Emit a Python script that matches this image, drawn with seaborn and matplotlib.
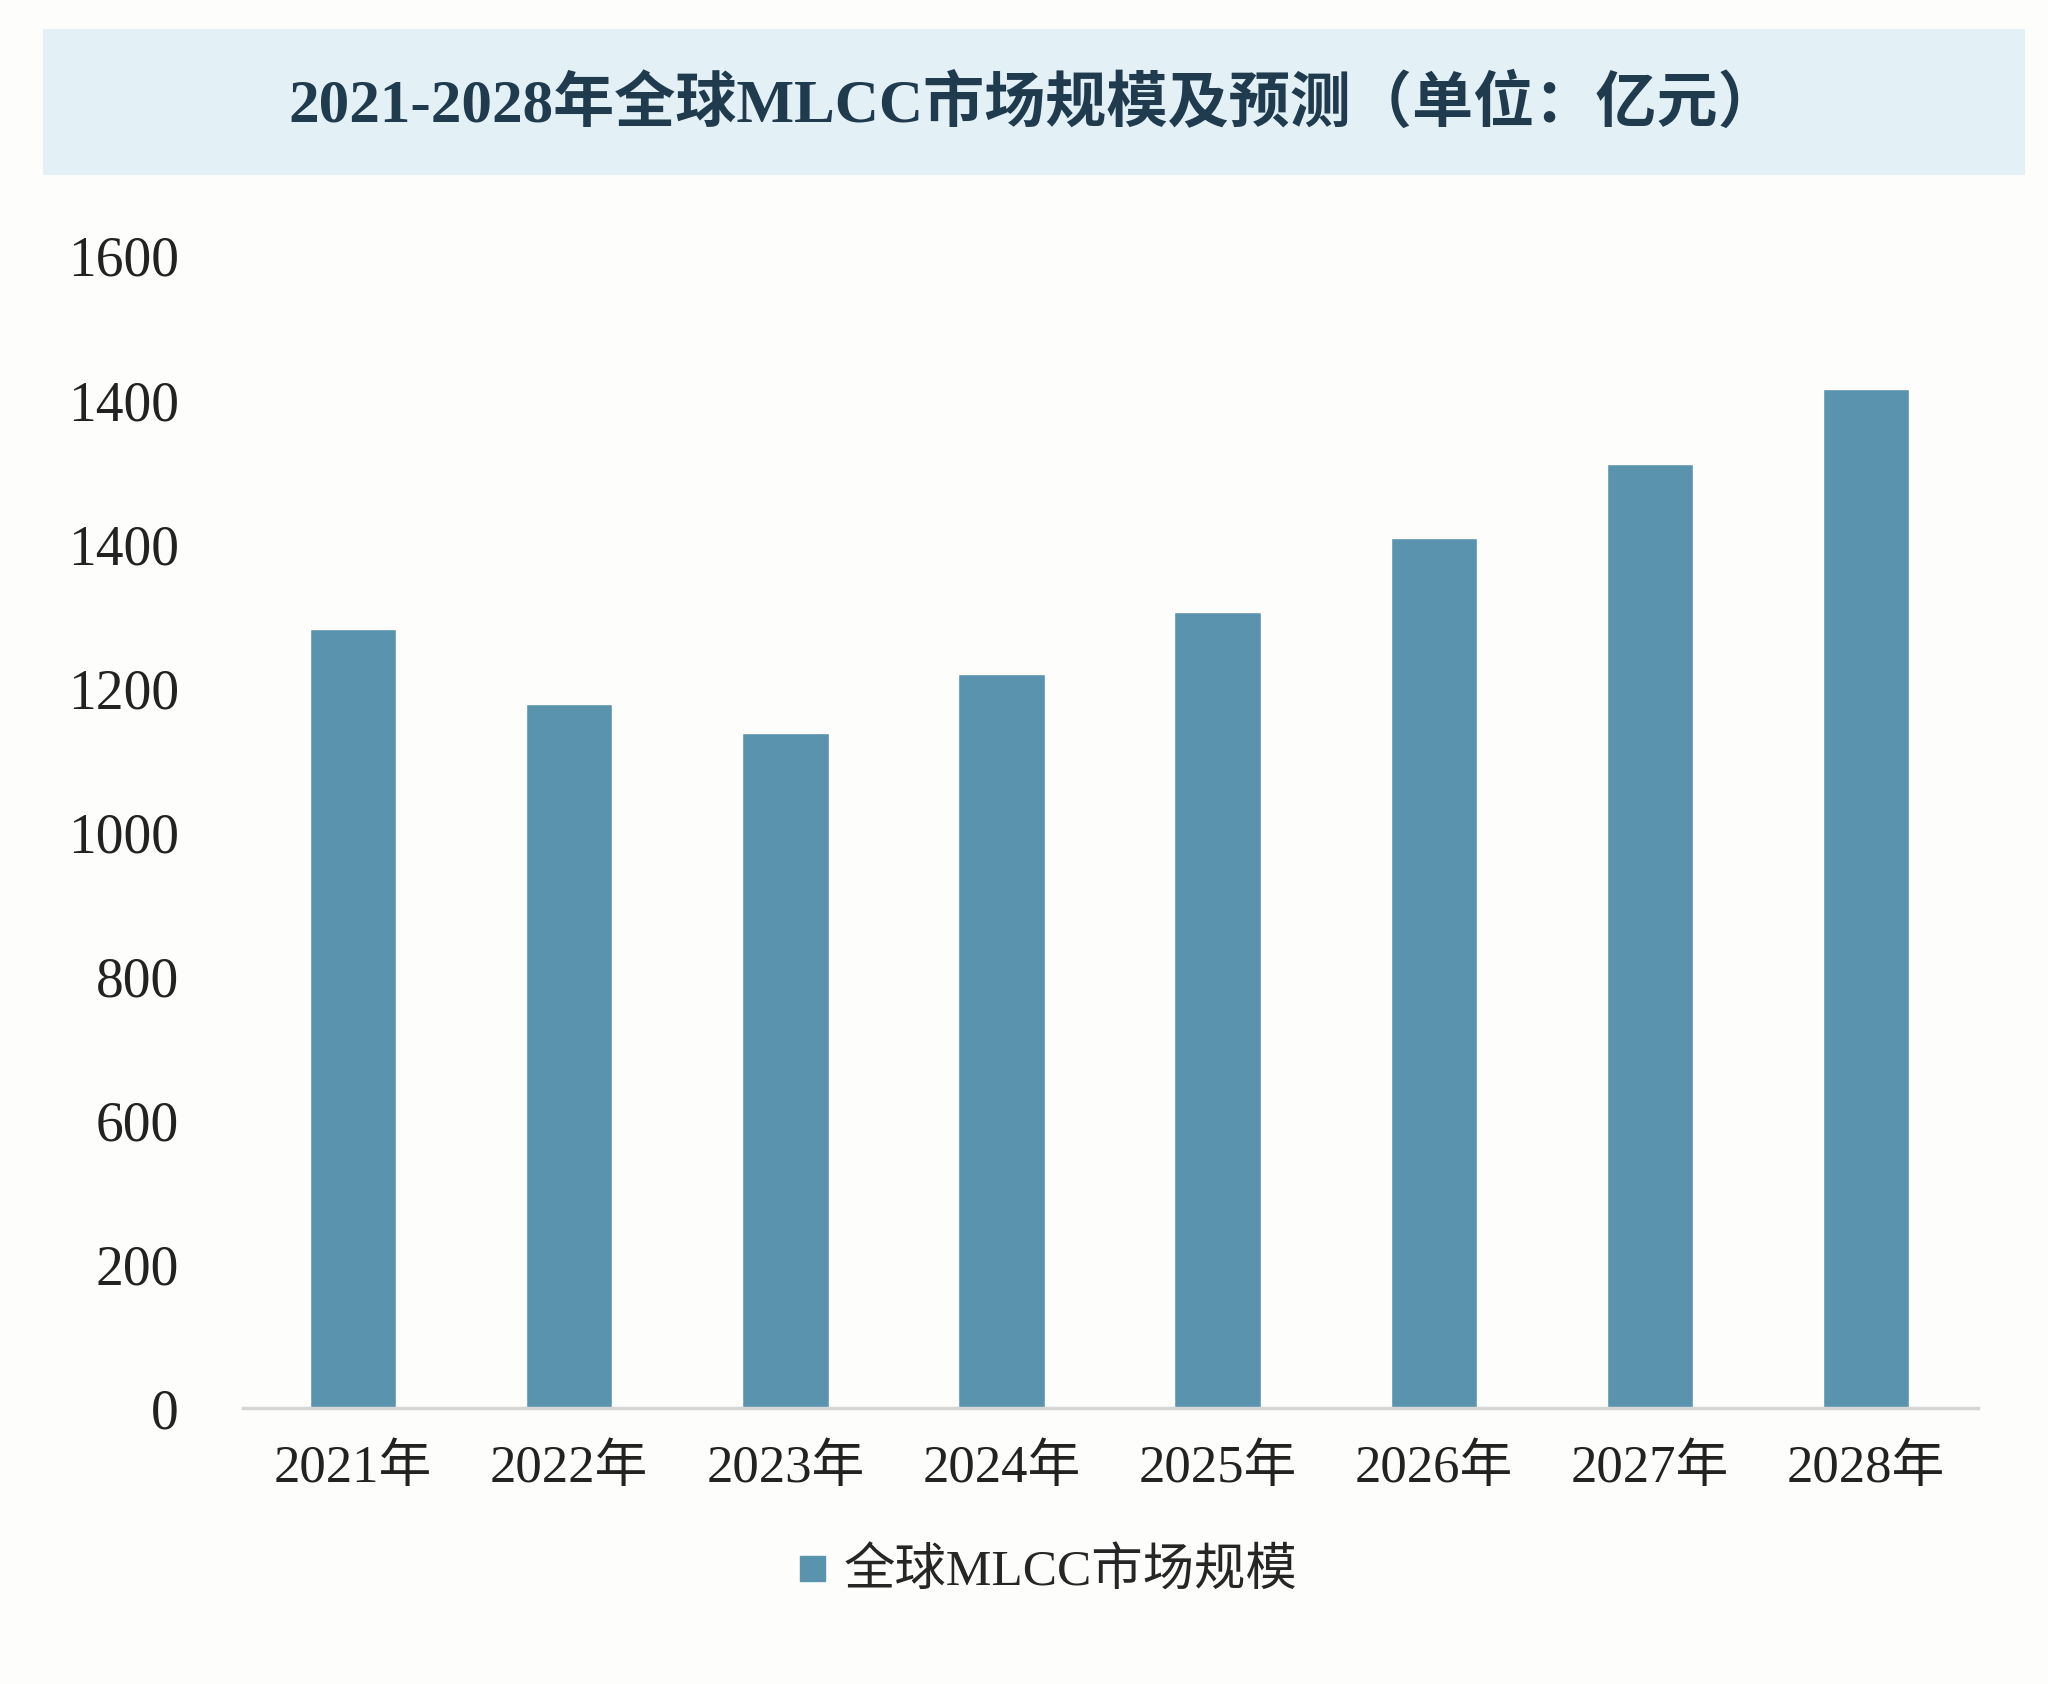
import numpy as np
import pandas as pd
import matplotlib
matplotlib.use("Agg")
import matplotlib.pyplot as plt
from matplotlib.patches import Rectangle
from matplotlib.lines import Line2D
import seaborn as sns

years = ["2021年", "2022年", "2023年", "2024年", "2025年", "2026年", "2027年", "2028年"]
market = [1082, 978, 938, 1020, 1106, 1208, 1311, 1415]
ytick_vals = [0, 200, 400, 600, 800, 1000, 1200, 1400, 1600]
ytick_text = ["0", "200", "600", "800", "1000", "1200", "1400", "1400", "1600"]
title = "2021-2028年全球MLCC市场规模及预测（单位：亿元）"
series_name = "全球MLCC市场规模"

bar_color = "#5a93ae"
fonts = ["Liberation Serif", "Noto Sans CJK SC", "DejaVu Sans"]

sns.set_theme(style="white")
plt.rcParams["font.family"] = fonts

df = pd.DataFrame({"year": years, "value": market})

fig = plt.figure(figsize=(20.48, 16.84), dpi=100)
fig.patch.set_facecolor("#fdfdfb")

# title band
fig.patches.append(Rectangle((0.021, 0.8963), 0.968, 0.0866, transform=fig.transFigure,
                             facecolor="#e3f0f6", edgecolor="none", zorder=0))
fig.text(0.505, 0.9376, title, ha="center", va="center", fontsize=44,
         fontweight="bold", color="#1f3b4d", family=fonts)

ax = fig.add_axes([0.1186, 0.1637, 0.8474, 0.6843])
ax.set_facecolor("#fdfdfb")
sns.barplot(data=df, x="year", y="value", color=bar_color, width=0.4,
            saturation=1, ax=ax)
ax.set_xlim(-0.51, 7.52)
ax.set_ylim(0, 1600)
ax.set_yticks(ytick_vals)
ax.set_yticklabels(ytick_text)
ax.set_xlabel("")
ax.set_ylabel("")
for s in ["top", "right", "left"]:
    ax.spines[s].set_visible(False)
ax.spines["bottom"].set_color("#d6d6d6")
ax.spines["bottom"].set_linewidth(2.5)
ax.tick_params(axis="y", length=0, pad=46, labelsize=40, labelcolor="#222222")
ax.tick_params(axis="x", length=0, pad=26, labelsize=38, labelcolor="#222222")

handle = Line2D([], [], marker="s", linestyle="none", markersize=18,
                markerfacecolor=bar_color, markeredgecolor=bar_color)
fig.legend([handle], [series_name], loc="center", bbox_to_anchor=(0.51, 0.066),
           frameon=False, fontsize=37, handletextpad=0.2, handlelength=0.8)

fig.savefig("out.png", dpi=100, facecolor=fig.get_facecolor())
